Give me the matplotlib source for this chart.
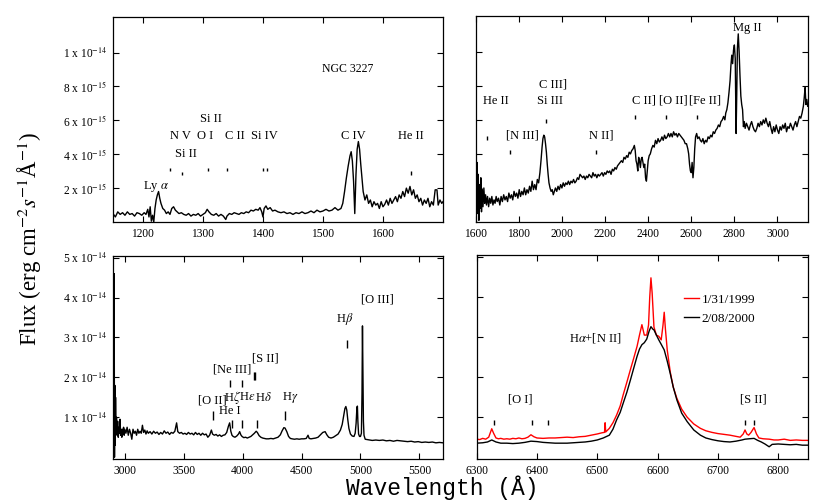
import matplotlib.pyplot as plt

plt.rcParams['font.family'] = 'Liberation Serif'
plt.rcParams['mathtext.fontset'] = 'stix'

# --- far UV (flux in 1e-15) ---
fuv_wave = [1150, 1154, 1158, 1162, 1166, 1170, 1174, 1178, 1182, 1186, 1190, 1194, 1198, 1202, 1205,
            1208, 1210, 1212, 1214, 1216, 1218, 1220, 1222, 1224, 1226, 1228, 1230, 1233, 1236, 1239,
            1242, 1245, 1248, 1251, 1254, 1257, 1260, 1264, 1268, 1272, 1276, 1280, 1284, 1288, 1292,
            1296, 1300, 1304, 1307, 1310, 1314, 1318, 1322, 1326, 1330, 1334, 1338, 1340, 1344, 1348,
            1352, 1356, 1360, 1364, 1368, 1372, 1376, 1380, 1384, 1388, 1392, 1395, 1398, 1400, 1402,
            1405, 1408, 1412, 1416, 1420, 1425, 1430, 1435, 1440, 1445, 1450, 1455, 1460, 1465, 1470,
            1475, 1480, 1485, 1490, 1495, 1500, 1505, 1510, 1515, 1520, 1525, 1530, 1533, 1536, 1539,
            1542, 1545, 1547, 1549, 1551, 1553, 1555, 1557, 1559, 1561, 1563, 1565, 1567, 1570, 1573,
            1576, 1579, 1582, 1585, 1588, 1591, 1594, 1597, 1600, 1603, 1606, 1609, 1612, 1615, 1618,
            1621, 1624, 1627, 1630, 1633, 1636, 1639, 1642, 1645, 1648, 1651, 1654, 1657, 1660, 1663,
            1666, 1669, 1672, 1675, 1678, 1681, 1684, 1687, 1690, 1692, 1695, 1698, 1700]
fuv_flux = [0.5, 0.3, 0.6, 0.45, 0.55, 0.4, 0.6, 0.45, 0.5, 0.35, 0.55, 0.5, 0.4, 0.55, 0.45,
            0.75, 0.3, 0.9, 0.05, 0.4, 0.0, 0.8, 1.3, 1.6, 1.8, 1.4, 1.1, 0.8, 0.7, 0.5,
            0.6, 0.45, 0.8, 0.9, 0.7, 0.6, 0.5, 0.55, 0.45, 0.4, 0.5, 0.35, 0.45, 0.4, 0.5,
            0.35, 0.45, 0.55, 0.75, 0.6, 0.45, 0.4, 0.5, 0.35, 0.45, 0.35, 0.15, 0.35, 0.5, 0.45,
            0.55, 0.5, 0.45, 0.55, 0.5, 0.6, 0.55, 0.7, 0.65, 0.75, 0.7, 0.85, 0.6, 0.3, 0.8,
            0.95, 0.75, 0.85, 0.65, 0.7, 0.6, 0.55, 0.6, 0.5, 0.55, 0.45, 0.55, 0.5, 0.6, 0.5,
            0.55, 0.65, 0.55, 0.7, 0.6, 0.65, 0.75, 0.65, 0.7, 0.85, 0.7, 0.8, 1.1, 1.8, 2.6,
            3.3, 3.9, 4.15, 3.6, 2.4, 0.5, 2.8, 4.3, 4.75, 4.3, 3.4, 2.6, 1.8, 1.3, 1.6,
            1.1, 1.3, 0.9, 1.2, 1.0, 1.1, 0.8, 1.2, 0.9, 1.05, 1.3, 1.0, 1.4, 1.1, 1.3,
            1.5, 1.2, 1.6, 1.4, 1.8, 1.5, 2.0, 1.7, 2.1, 1.6, 1.9, 1.4, 1.6, 1.2, 1.4,
            1.0, 1.3, 1.1, 1.4, 0.9, 1.2, 1.0, 1.9, 1.9, 1.0, 1.3, 1.1, 1.2]

# --- near UV (flux in 1e-15) ---
nuv_wave = [1600, 1603, 1606, 1609, 1612, 1615, 1618, 1621, 1624, 1627, 1630, 1634, 1638, 1642, 1646,
            1650, 1655, 1660, 1665, 1670, 1675, 1680, 1685, 1690, 1695, 1700, 1706, 1712, 1718, 1724,
            1730, 1736, 1742, 1748, 1754, 1760, 1766, 1772, 1778, 1784, 1790, 1796, 1802, 1808, 1814,
            1820, 1826, 1832, 1838, 1844, 1850, 1856, 1862, 1868, 1874, 1880, 1886, 1892, 1898, 1903,
            1908, 1912, 1916, 1920, 1924, 1928, 1932, 1936, 1940, 1945, 1950, 1955, 1960, 1965, 1970,
            1976, 1982, 1988, 1994, 2000, 2006, 2012, 2018, 2024, 2030, 2036, 2042, 2048, 2054, 2060,
            2066, 2072, 2078, 2084, 2090, 2096, 2102, 2108, 2114, 2120, 2126, 2132, 2138, 2144, 2150,
            2156, 2162, 2168, 2174, 2180, 2186, 2192, 2198, 2204, 2210, 2216, 2222, 2228, 2234, 2240,
            2246, 2252, 2258, 2264, 2270, 2276, 2282, 2288, 2294, 2300, 2306, 2312, 2318, 2324, 2330,
            2336, 2340, 2344, 2348, 2352, 2356, 2360, 2364, 2368, 2372, 2376, 2380, 2384, 2388, 2392,
            2396, 2400, 2405, 2410, 2416, 2422, 2428, 2434, 2440, 2446, 2452, 2458, 2464, 2470, 2476,
            2482, 2488, 2494, 2500, 2506, 2512, 2518, 2524, 2530, 2536, 2542, 2548, 2554, 2560, 2566,
            2572, 2578, 2584, 2588, 2592, 2596, 2600, 2604, 2608, 2612, 2616, 2620, 2625, 2630, 2636,
            2642, 2648, 2654, 2660, 2666, 2672, 2678, 2684, 2690, 2696, 2702, 2708, 2714, 2720, 2726,
            2732, 2738, 2744, 2750, 2756, 2760, 2765, 2770, 2775, 2780, 2784, 2788, 2792, 2796, 2800,
            2804, 2808, 2811, 2814, 2818, 2822, 2826, 2830, 2834, 2838, 2842, 2846, 2850, 2856, 2862,
            2868, 2874, 2880, 2886, 2892, 2898, 2904, 2910, 2916, 2922, 2928, 2934, 2940, 2946, 2952,
            2958, 2964, 2970, 2976, 2982, 2988, 2994, 3000, 3006, 3012, 3018, 3024, 3030, 3036, 3042,
            3048, 3054, 3060, 3066, 3072, 3078, 3084, 3090, 3096, 3102, 3108, 3114, 3120, 3124, 3128,
            3132, 3136, 3140]
nuv_flux = [2.5, 0.3, 3.5, 0.5, 2.8, 0.1, 2.2, 0.8, 2.6, 0.6, 1.9, 0.9, 2.0, 1.1, 1.6,
            1.0, 1.5, 0.9, 1.4, 1.1, 1.5, 1.0, 1.3, 1.1, 1.5, 1.2, 1.4, 1.0, 1.5, 1.2,
            1.6, 1.3, 1.5, 1.2, 1.7, 1.4, 1.6, 1.3, 1.8, 1.5, 1.7, 1.4, 1.9, 1.5, 1.8,
            1.6, 2.0, 1.6, 1.9, 1.7, 2.1, 1.8, 2.4, 1.9, 2.2, 1.9, 2.5, 2.3, 2.9, 3.6,
            4.4, 4.9, 5.1, 5.0, 4.6, 4.1, 3.4, 2.8, 2.3, 2.0, 1.8, 1.9, 1.6, 1.8, 2.0,
            1.8, 2.1, 1.9, 2.2, 2.0, 2.3, 2.1, 2.3, 2.2, 2.4, 2.2, 2.4, 2.3, 2.5, 2.3,
            2.4, 2.6, 2.5, 2.8, 2.7, 2.6, 2.7, 2.5, 2.7, 2.6, 2.8, 2.7, 2.6, 2.9, 2.7,
            2.8, 2.6, 2.8, 2.7, 2.8, 2.9, 2.7, 2.9, 2.8, 3.0, 2.9, 3.0, 2.8, 3.1, 3.0,
            3.2, 3.1, 3.3, 3.4, 3.5, 3.6, 3.5, 3.8, 3.7, 3.9, 3.8, 4.1, 4.0, 4.2, 4.3,
            4.5, 4.2, 3.6, 3.4, 3.0, 3.8, 3.6, 3.2, 3.7, 3.8, 3.5, 3.2, 3.4, 2.6, 2.4,
            3.0, 3.6, 3.9, 4.0, 4.3, 4.5, 4.4, 4.8, 4.6, 4.9, 4.7, 4.8, 5.0, 4.8, 5.1,
            4.9, 5.0, 5.2, 5.0, 5.2, 5.0, 5.3, 5.1, 5.2, 5.0, 5.2, 5.1, 5.0, 4.9, 4.8,
            4.6, 4.6, 4.3, 4.0, 3.4, 3.0, 2.9, 3.5, 2.6, 3.2, 4.3, 5.0, 5.2, 4.9, 5.0,
            4.8, 4.7, 4.9, 4.6, 4.8, 4.7, 5.0, 4.9, 5.1, 5.0, 5.3, 5.2, 5.4, 5.5, 5.7,
            5.6, 5.9, 6.0, 6.2, 6.0, 6.4, 6.6, 7.0, 7.6, 8.3, 9.2, 9.8, 9.3, 10.1, 10.4,
            9.6, 5.2, 7.5, 10.2, 11.05, 10.0, 8.6, 7.4, 6.9, 6.6, 5.6, 5.9, 5.5, 5.8, 5.6,
            5.4, 5.7, 5.9, 5.6, 5.4, 5.3, 5.5, 5.8, 5.6, 5.9, 5.7, 6.0, 5.8, 6.1, 5.8,
            5.6, 5.9, 5.5, 5.2, 5.6, 5.3, 5.7, 5.4, 5.2, 5.6, 5.4, 5.7, 5.5, 5.8, 5.3,
            5.6, 5.5, 5.8, 5.6, 5.4, 5.7, 5.9, 5.6, 5.9, 6.2, 6.1, 6.4, 6.8, 7.3, 7.9,
            6.9, 7.2, 6.8]

# --- optical (flux in 1e-14) ---
opt_wave = [2900, 2905, 2910, 2913, 2916, 2919, 2922, 2926, 2930, 2935, 2940, 2945, 2950, 2955, 2960,
            2965, 2970, 2975, 2980, 2985, 2990, 2995, 3000, 3010, 3020, 3030, 3040, 3050, 3060, 3070,
            3080, 3090, 3100, 3110, 3120, 3130, 3140, 3150, 3160, 3170, 3180, 3190, 3200, 3215, 3230,
            3245, 3260, 3275, 3290, 3305, 3320, 3335, 3350, 3365, 3380, 3395, 3410, 3425, 3440, 3450,
            3465, 3480, 3495, 3510, 3525, 3540, 3555, 3570, 3585, 3600, 3615, 3630, 3645, 3660, 3675,
            3690, 3705, 3720, 3735, 3745, 3760, 3775, 3790, 3805, 3820, 3835, 3850, 3865, 3880, 3890,
            3900, 3910, 3920, 3935, 3950, 3965, 3975, 3985, 3995, 4010, 4025, 4040, 4055, 4070, 4085,
            4100, 4115, 4125, 4140, 4155, 4170, 4185, 4200, 4220, 4240, 4260, 4280, 4300, 4320, 4335,
            4350, 4360, 4375, 4390, 4405, 4420, 4440, 4460, 4480, 4500, 4520, 4540, 4555, 4565, 4580,
            4600, 4620, 4640, 4660, 4680, 4700, 4715, 4730, 4750, 4770, 4790, 4810, 4830, 4845, 4858,
            4868, 4876, 4884, 4892, 4902, 4915, 4930, 4945, 4955, 4963, 4970, 4974, 4978, 4984, 4992,
            5000, 5008, 5013, 5017, 5021, 5025, 5030, 5040, 5060, 5080, 5100, 5130, 5160, 5190, 5220,
            5250, 5280, 5310, 5340, 5370, 5400, 5430, 5460, 5490, 5520, 5550, 5580, 5610, 5640, 5670,
            5700]
opt_flux = [0.8, 0.2, 4.6, 0.0, 1.8, 0.3, 1.5, 0.6, 1.0, 0.55, 0.9, 0.5, 0.75, 0.6, 0.95,
            0.55, 0.7, 0.5, 0.7, 0.6, 0.75, 0.55, 0.7, 0.6, 0.75, 0.55, 0.7, 0.6, 0.45, 0.7,
            0.6, 0.65, 0.55, 0.7, 0.6, 0.65, 0.6, 0.8, 0.62, 0.68, 0.58, 0.66, 0.6, 0.64, 0.58,
            0.65, 0.6, 0.63, 0.57, 0.62, 0.58, 0.66, 0.6, 0.63, 0.57, 0.62, 0.6, 0.65, 0.86, 0.64,
            0.6, 0.62, 0.58, 0.6, 0.57, 0.62, 0.58, 0.6, 0.56, 0.62, 0.57, 0.6, 0.55, 0.6, 0.56,
            0.58, 0.5, 0.55, 0.68, 0.58, 0.55, 0.57, 0.53, 0.56, 0.52, 0.55, 0.56, 0.62, 0.78, 0.86,
            0.65, 0.55, 0.52, 0.5, 0.53, 0.58, 0.64, 0.56, 0.52, 0.49, 0.5, 0.48, 0.5, 0.52, 0.56,
            0.6, 0.65, 0.62, 0.54, 0.5, 0.48, 0.47, 0.46, 0.46, 0.47, 0.46, 0.48, 0.5, 0.56, 0.66,
            0.74, 0.73, 0.64, 0.52, 0.47, 0.46, 0.45, 0.46, 0.45, 0.46, 0.46, 0.47, 0.55, 0.47, 0.46,
            0.47, 0.48, 0.5, 0.56, 0.62, 0.64, 0.56, 0.5, 0.48, 0.5, 0.54, 0.58, 0.68, 0.82, 1.05,
            1.22, 1.27, 1.18, 0.95, 0.72, 0.58, 0.53, 0.52, 0.6, 0.85, 1.25, 1.28, 0.9, 0.58, 0.52,
            0.52, 0.6, 1.6, 3.29, 2.2, 0.9, 0.55, 0.45, 0.44, 0.43, 0.42, 0.43, 0.42, 0.43, 0.41,
            0.42, 0.4, 0.42, 0.41, 0.4, 0.39, 0.4, 0.38, 0.39, 0.37, 0.38, 0.37, 0.38, 0.36, 0.37,
            0.36]

# --- H-alpha region, two epochs (flux in 1e-14) ---
ha_wave_1999 = [6300, 6305, 6310, 6315, 6320, 6325, 6328, 6332, 6336, 6340, 6345, 6350, 6355, 6360, 6365,
                6370, 6375, 6380, 6385, 6390, 6395, 6400, 6410, 6420, 6430, 6440, 6450, 6460, 6470, 6480,
                6490, 6500, 6508, 6512, 6513, 6514, 6520, 6526, 6532, 6538, 6543, 6549, 6555, 6560, 6566,
                6570, 6574, 6578, 6582, 6585, 6587, 6589, 6591, 6594, 6598, 6602, 6606, 6609, 6611, 6613,
                6616, 6621, 6626, 6632, 6640, 6649, 6660, 6671, 6680, 6690, 6700, 6710, 6720, 6730, 6737,
                6742, 6745, 6748, 6751, 6755, 6760, 6764, 6768, 6775, 6785, 6793, 6800, 6810, 6820, 6830,
                6840, 6850]
ha_flux_1999 = [0.45, 0.44, 0.47, 0.45, 0.5, 0.71, 0.6, 0.48, 0.46, 0.47, 0.45, 0.46, 0.45, 0.47, 0.46,
                0.48, 0.46, 0.47, 0.5, 0.56, 0.51, 0.48, 0.47, 0.48, 0.48, 0.49, 0.5, 0.49, 0.51, 0.52,
                0.55, 0.58, 0.61, 0.62, 0.86, 0.63, 0.72, 0.86, 1.05, 1.28, 1.56, 1.87, 2.19, 2.45, 2.77,
                3.05, 3.31, 3.05, 3.05, 3.3, 4.0, 4.48, 4.1, 3.25, 3.05, 3.02, 2.93, 3.3, 3.62, 3.2,
                2.68, 2.13, 1.75, 1.47, 1.2, 1.0, 0.83, 0.72, 0.66, 0.62, 0.59, 0.57, 0.55, 0.52, 0.5,
                0.58, 0.68, 0.58, 0.55, 0.62, 0.74, 0.58, 0.48, 0.46, 0.45, 0.43, 0.43, 0.45, 0.42, 0.43,
                0.42, 0.42]
ha_wave_2000 = [6300, 6310, 6318, 6325, 6332, 6340, 6350, 6360, 6370, 6380, 6390, 6400, 6410, 6420, 6430,
                6440, 6450, 6460, 6470, 6480, 6490, 6500, 6510, 6520, 6526, 6532, 6538, 6543, 6549, 6555,
                6560, 6566, 6570, 6574, 6578, 6582, 6586, 6589, 6592, 6594, 6598, 6602, 6606, 6611, 6616,
                6621, 6626, 6632, 6640, 6649, 6660, 6671, 6680, 6690, 6700, 6710, 6720, 6730, 6740, 6745,
                6752, 6760, 6766, 6772, 6778, 6785, 6790, 6800, 6810, 6820, 6830, 6840, 6850]
ha_flux_2000 = [0.35, 0.36, 0.38, 0.43, 0.38, 0.35, 0.35, 0.34, 0.35, 0.37, 0.4, 0.39, 0.37, 0.36, 0.35,
                0.35, 0.35, 0.36, 0.37, 0.38, 0.4, 0.43, 0.48, 0.55, 0.7, 0.93, 1.12, 1.35, 1.62, 1.93,
                2.2, 2.52, 2.7, 2.81, 2.86, 2.95, 3.15, 3.26, 3.2, 3.18, 3.05, 2.93, 2.82, 2.68, 2.4,
                2.09, 1.75, 1.43, 1.1, 0.89, 0.68, 0.55, 0.48, 0.44, 0.41, 0.39, 0.38, 0.4, 0.43, 0.45,
                0.46, 0.47, 0.42, 0.38, 0.33, 0.26, 0.32, 0.33, 0.32, 0.31, 0.32, 0.3, 0.3]

# line identification marks: wavelength, bottom, top
fuv_marks = [(1245, 3.0, 3.2), (1265, 2.75, 2.95), (1309, 3.0, 3.2), (1340, 3.0, 3.2),
             (1400, 3.0, 3.2), (1407, 3.0, 3.2), (1647, 2.8, 3.0)]
fuv_labels = [('Ly $\\alpha$', 1221, 2.12), ('N V', 1262, 5.06), ('O I', 1303, 5.06),
              ('C II', 1353, 5.06), ('Si IV', 1402, 5.06), ('Si II', 1313, 6.1),
              ('Si II', 1271, 4.03), ('C IV', 1551, 5.06), ('He II', 1646, 5.06)]
nuv_marks = [(1654, 4.8, 5.04), (1759, 4.0, 4.25), (1926, 5.79, 6.06), (2158, 4.0, 4.25),
             (2337, 6.03, 6.26), (2482, 6.03, 6.26), (2626, 6.03, 6.26)]
nuv_labels = [('He II', 1694, 7.12), ('[N III]', 1817, 5.06), ('C III]', 1957, 8.07),
              ('Si III', 1944, 7.12), ('N II]', 2184, 5.06), ('C II]', 2379, 7.12),
              ('[O II]', 2515, 7.12), ('[Fe II]', 2663, 7.12), ('Mg II', 2862, 11.4)]
opt_marks = [(3745, 0.93, 1.17), (3914, 0.72, 0.93), (3994, 0.72, 0.93), (4124, 0.72, 0.93),
             (4362, 0.93, 1.17), (3892, 1.75, 1.93), (3991, 1.75, 1.93), (4096, 1.93, 2.14),
             (4101, 1.93, 2.14), (4882, 2.73, 2.94)]
opt_labels = [('[O III]', 5145, 3.94), ('H$\\beta$', 4868, 3.46), ('[S II]', 4189, 2.48),
              ('[Ne III]', 3912, 2.19), ('[O II]', 3740, 1.42), ('H$\\zeta$', 3912, 1.5),
              ('H$\\epsilon$', 4039, 1.5), ('H$\\delta$', 4175, 1.5), ('H$\\gamma$', 4401, 1.5),
              ('He I', 3895, 1.16)]
ha_marks = [(6328, 0.8, 0.93), (6392, 0.8, 0.93), (6419, 0.8, 0.93), (6745, 0.8, 0.93),
            (6760, 0.8, 0.93)]
ha_labels = [('[O I]', 6372, 1.45), ('H$\\alpha$+[N II]', 6496, 2.98), ('[S II]', 6759, 1.45)]

top_yticks = [2, 4, 6, 8, 10]
top_yticklabels = ['2 x 10$^{-15}$', '4 x 10$^{-15}$', '6 x 10$^{-15}$', '8 x 10$^{-15}$', '1 x 10$^{-14}$']
bot_yticks = [1, 2, 3, 4, 5]
bot_yticklabels = ['1 x 10$^{-14}$', '2 x 10$^{-14}$', '3 x 10$^{-14}$', '4 x 10$^{-14}$', '5 x 10$^{-14}$']


def style_axis(ax, xlim, ylim, xticks, yticks, yticklabels=None):
    ax.set_xlim(*xlim)
    ax.set_ylim(*ylim)
    ax.set_xticks(xticks)
    ax.set_yticks(yticks)
    if yticklabels is None:
        ax.set_yticklabels([])
    else:
        ax.set_yticklabels(yticklabels)
    ax.tick_params(direction='in', top=True, right=True, length=4, width=0.8,
                   labelsize=8.3, pad=4)
    for s in ax.spines.values():
        s.set_linewidth(0.9)


def annotate(ax, marks, labels, scale):
    for w, lo, hi in marks:
        ax.vlines(w, lo * scale, hi * scale, color='black', lw=1.0)
    for txt, w, y in labels:
        ax.text(w, y * scale, txt, ha='center', va='center', fontsize=9)


fig = plt.figure(figsize=(8.3, 5.03), dpi=100)

ax1 = fig.add_axes([0.1361, 0.5586, 0.3976, 0.4076])
ax1.plot(fuv_wave, [f * 1e-15 for f in fuv_flux], color='black', lw=1.0)
style_axis(ax1, (1150, 1700), (0, 1.21e-14), [1200, 1300, 1400, 1500, 1600],
           [t * 1e-15 for t in top_yticks], top_yticklabels)
annotate(ax1, fuv_marks, fuv_labels, 1e-15)
ax1.text(1540.7, 9.05e-15, 'NGC 3227', ha='center', va='center', fontsize=8.5)

ax2 = fig.add_axes([0.5731, 0.5586, 0.4000, 0.4096])
ax2.plot(nuv_wave, [f * 1e-15 for f in nuv_flux], color='black', lw=1.0)
style_axis(ax2, (1600, 3140), (0, 1.21e-14), [1600, 1800, 2000, 2200, 2400, 2600, 2800, 3000],
           [t * 1e-15 for t in top_yticks])
annotate(ax2, nuv_marks, nuv_labels, 1e-15)

ax3 = fig.add_axes([0.1361, 0.0875, 0.3976, 0.4042])
ax3.plot(opt_wave, [f * 1e-14 for f in opt_flux], color='black', lw=1.0)
style_axis(ax3, (2900, 5700), (-0.045e-14, 5.05e-14), [3000, 3500, 4000, 4500, 5000, 5500],
           [t * 1e-14 for t in bot_yticks], bot_yticklabels)
annotate(ax3, opt_marks, opt_labels, 1e-14)

ax4 = fig.add_axes([0.5743, 0.0875, 0.3996, 0.4055])
ax4.plot(ha_wave_1999, [f * 1e-14 for f in ha_flux_1999], color='red', lw=1.0, label='1/31/1999')
ax4.plot(ha_wave_2000, [f * 1e-14 for f in ha_flux_2000], color='black', lw=1.0, label='2/08/2000')
style_axis(ax4, (6300, 6850), (-0.045e-14, 5.05e-14), [6300, 6400, 6500, 6600, 6700, 6800],
           [t * 1e-14 for t in bot_yticks])
annotate(ax4, ha_marks, ha_labels, 1e-14)
ax4.legend(loc='upper left', bbox_to_anchor=(0.625, 0.81), frameon=False, fontsize=9.5,
           handlelength=1.15, handletextpad=0.2, labelspacing=0.5, borderpad=0, borderaxespad=0)

fig.text(0.036, 0.526, 'Flux (erg cm$^{-2}s^{-1}$Å$^{-1}$)', rotation=90,
         ha='center', va='center', fontsize=16.5)
fig.text(0.533, 0.030, 'Wavelength (Å)', family='Liberation Mono',
         ha='center', va='center', fontsize=16.5)

fig.savefig('out.png', dpi=100)
